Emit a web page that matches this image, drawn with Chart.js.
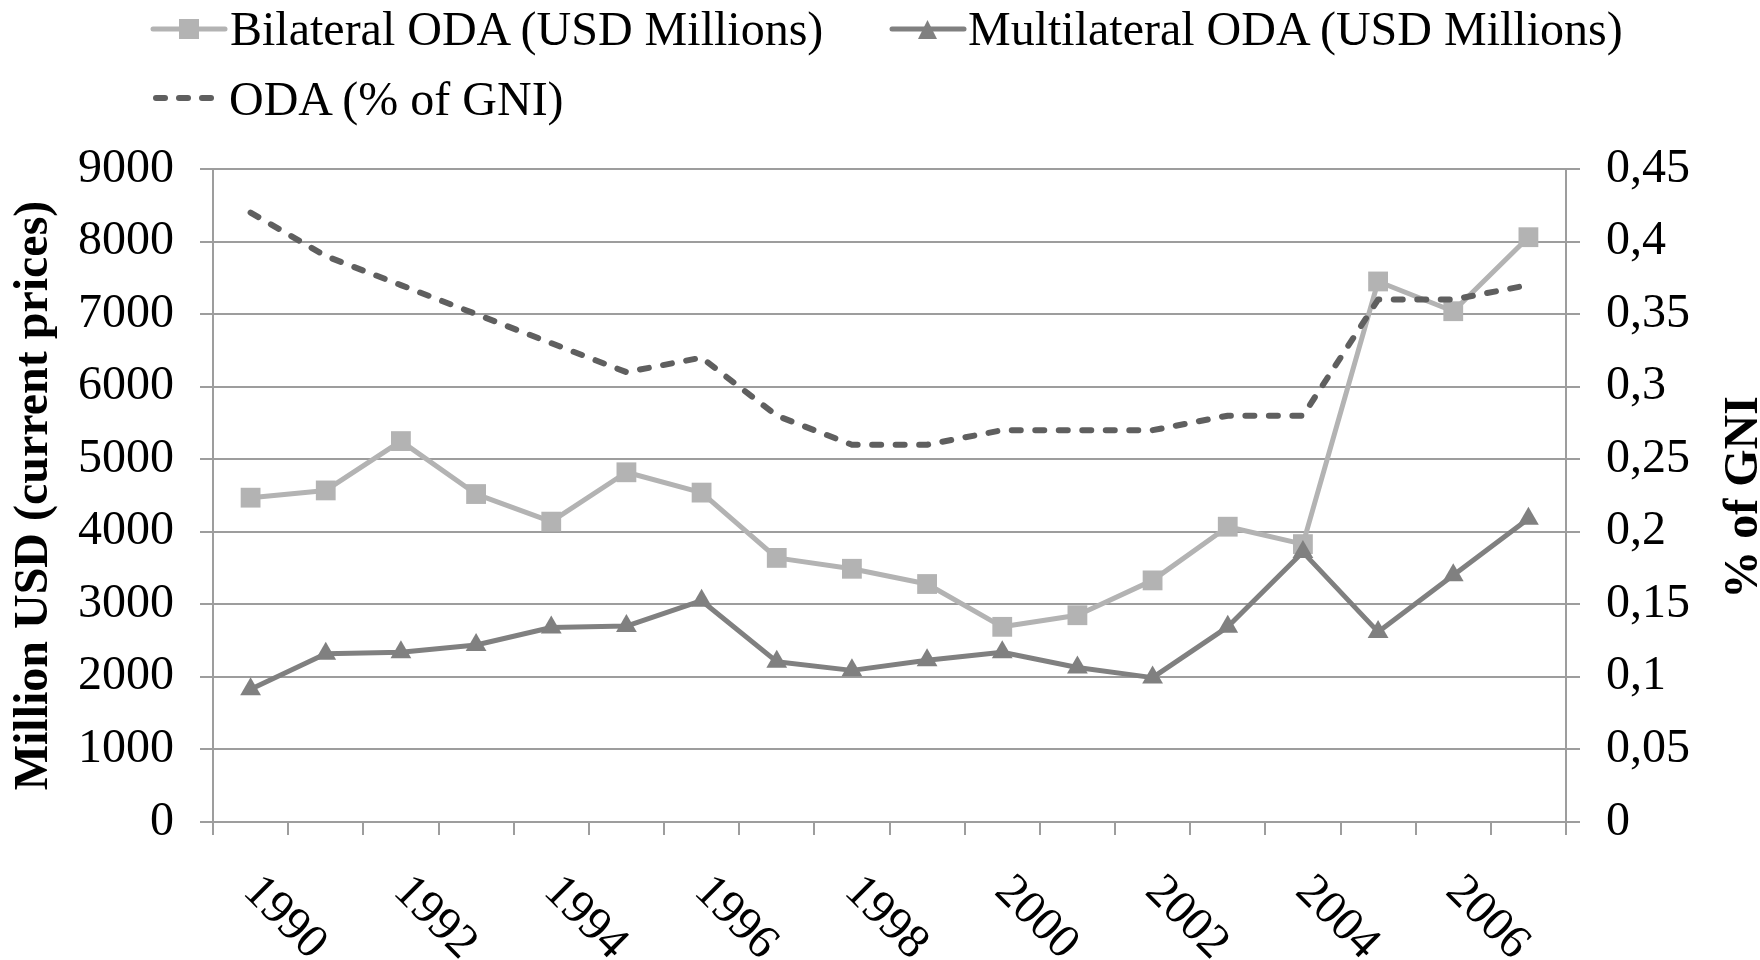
<!DOCTYPE html>
<html>
<head>
<meta charset="utf-8">
<script src="https://cdn.jsdelivr.net/npm/chart.js@4.4.1/dist/chart.umd.min.js"></script>
<style>
  body { margin: 0; background: #fff; }
  #wrap { position: relative; width: 1760px; height: 960px; }
  #c { position: absolute; left: 0; top: 0; }
  .lg { position: absolute; font: 48px "Liberation Serif", "Times New Roman", serif; line-height: 48px; color: #000; white-space: nowrap; }
  .sw { position: absolute; }
</style>
</head>
<body>
<div id="wrap">
  <canvas id="c" width="1760" height="960"></canvas>
  <svg class="sw" style="left:150px;top:9px" width="78" height="40">
    <line x1="3" y1="20" x2="75" y2="20" stroke="#b3b3b3" stroke-width="5" stroke-linecap="round"/>
    <rect x="29" y="10" width="20" height="20" fill="#b3b3b3"/>
  </svg>
  <div class="lg" style="left:230px;top:5px">Bilateral ODA (USD Millions)</div>
  <svg class="sw" style="left:889px;top:9px" width="78" height="40">
    <line x1="3" y1="20" x2="75" y2="20" stroke="#808080" stroke-width="5" stroke-linecap="round"/>
    <polygon points="29,30 48,30 38.5,11" fill="#808080"/>
  </svg>
  <div class="lg" style="left:968px;top:5px">Multilateral ODA (USD Millions)</div>
  <svg class="sw" style="left:150px;top:78px" width="70" height="40">
    <g stroke="#5f5f5f" stroke-width="6" stroke-linecap="round">
      <line x1="6" y1="20" x2="15" y2="20"/><line x1="29" y1="20" x2="38" y2="20"/><line x1="52" y1="20" x2="61" y2="20"/>
    </g>
  </svg>
  <div class="lg" style="left:229px;top:75px">ODA (% of GNI)</div>
</div>
<script>
const YEARS = ['1990', '1991', '1992', '1993', '1994', '1995', '1996', '1997', '1998', '1999', '2000', '2001', '2002', '2003', '2004', '2005', '2006', '2007'];
const BILATERAL = [4470, 4570, 5250, 4520, 4140, 4820, 4540, 3640, 3490, 3280, 2690, 2850, 3330, 4070, 3830, 7450, 7040, 8060];
const MULTILATERAL = [1830, 2320, 2340, 2440, 2680, 2700, 3050, 2210, 2090, 2230, 2340, 2130, 1990, 2690, 3720, 2620, 3400, 4180];
const ODA_GNI = [0.42, 0.39, 0.37, 0.35, 0.33, 0.31, 0.32, 0.28, 0.26, 0.26, 0.27, 0.27, 0.27, 0.28, 0.28, 0.36, 0.36, 0.37];
const GNI_TICKS = ['0', '0,05', '0,1', '0,15', '0,2', '0,25', '0,3', '0,35', '0,4', '0,45'];

const FONT = '"Liberation Serif", "Times New Roman", serif';
const GRID = '#9d9d9d';

// x labels are drawn turned clockwise, and the right title reads bottom-up like the left one
const extraText = {
  id: 'extraText',
  afterDraw(chart) {
    const { ctx, chartArea, scales: { x } } = chart;
    ctx.save();
    ctx.fillStyle = '#000';
    ctx.font = '48px ' + FONT;
    ctx.textAlign = 'left'; ctx.textBaseline = 'middle';
    YEARS.forEach((yr, i) => {
      if (i % 2) return;
      ctx.save();
      ctx.translate(x.getPixelForValue(i), chartArea.bottom + 62);
      ctx.rotate(Math.PI / 4);
      ctx.fillText(yr, 0, 0);
      ctx.restore();
    });
    ctx.font = 'bold 48px ' + FONT;
    ctx.textAlign = 'center';
    ctx.translate(1745, (chartArea.top + chartArea.bottom) / 2 + 2);
    ctx.rotate(-Math.PI / 2);
    ctx.fillText('% of GNI', 0, 0);
    ctx.restore();
  }
};

new Chart(document.getElementById('c'), {
  type: 'line',
  data: {
    labels: YEARS,
    datasets: [
      { label: 'Bilateral ODA (USD Millions)', data: BILATERAL, yAxisID: 'y', order: 3,
        borderColor: '#b3b3b3', backgroundColor: '#b3b3b3', borderWidth: 5, borderJoinStyle: 'round',
        pointStyle: 'rect', pointRadius: 14, pointHoverRadius: 14, pointBorderWidth: 0 },
      { label: 'Multilateral ODA (USD Millions)', data: MULTILATERAL, yAxisID: 'y', order: 2,
        borderColor: '#808080', backgroundColor: '#808080', borderWidth: 5, borderJoinStyle: 'round',
        pointStyle: 'triangle', pointRadius: 12, pointHoverRadius: 12, pointBorderWidth: 0 },
      { label: 'ODA (% of GNI)', data: ODA_GNI, yAxisID: 'y1', order: 1,
        borderColor: '#5f5f5f', borderWidth: 6, borderDash: [9, 14.5], borderCapStyle: 'round', borderJoinStyle: 'round',
        pointRadius: 0, pointHoverRadius: 0 },
    ],
  },
  options: {
    responsive: false,
    animation: false,
    events: [],
    layout: { padding: { top: 169, left: 0, right: 0, bottom: 0 } },
    plugins: { legend: { display: false }, tooltip: { enabled: false } },
    scales: {
      x: {
        offset: true,
        ticks: { display: false, autoSkip: false },
        grid: { offset: true, drawOnChartArea: false, tickLength: 13, color: GRID, lineWidth: 2 },
        border: { color: GRID, width: 2 },
        afterFit: s => { s.height = 138; },
      },
      y: {
        position: 'left', min: 0, max: 9000,
        ticks: { stepSize: 1000, padding: 26, color: '#000', font: { family: FONT, size: 48 }, callback: v => String(v) },
        grid: { color: GRID, lineWidth: 2, tickLength: 13 },
        border: { color: GRID, width: 2 },
        title: { display: true, text: 'Million USD (current prices)', color: '#000', padding: { top: 6, bottom: 0 },
          font: { family: FONT, size: 48, weight: 'bold' } },
        afterFit: s => { s.width = 213; },
      },
      y1: {
        position: 'right', min: 0, max: 0.45,
        ticks: { stepSize: 0.05, padding: 26, color: '#000', font: { family: FONT, size: 48 }, callback: (v, i) => GNI_TICKS[i] },
        grid: { drawOnChartArea: false, color: GRID, lineWidth: 2, tickLength: 14 },
        border: { color: GRID, width: 2 },
        afterFit: s => { s.width = 194; },
      },
    },
  },
  plugins: [extraText],
});
</script>
</body>
</html>
